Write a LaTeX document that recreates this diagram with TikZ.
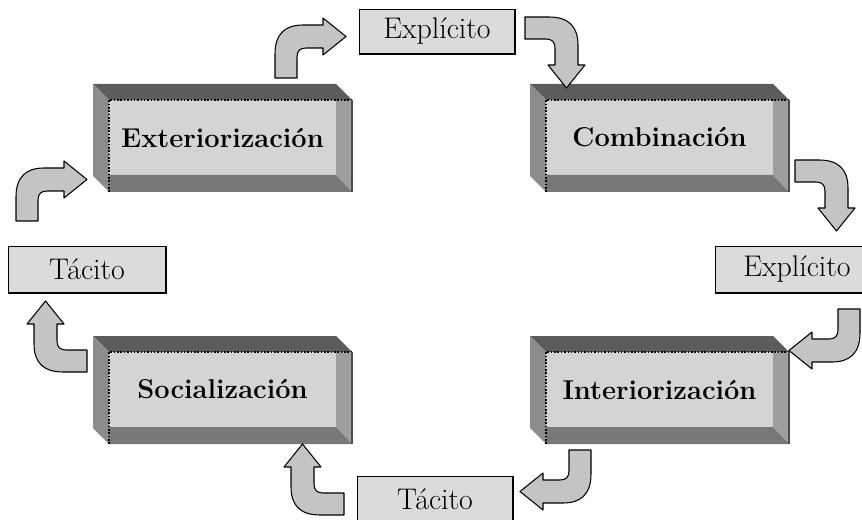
\documentclass[tikz,border=0pt]{standalone}
\usepackage{tikz}
\usetikzlibrary{calc}

\begin{document}
\begin{tikzpicture}[x=0.02cm, y=-0.02cm,
  tag/.style={draw, fill=black!14, inner sep=0pt, line width=0.5pt, font=\fontsize{17}{20}\selectfont},
  boxtxt/.style={font=\fontsize{15.5}{18}\selectfont\bfseries},
  bentarrow/.pic={
    \draw[fill=black!23, line width=0.6pt, line join=round] (0,0) -- (0,-24) .. controls (0,-44) and (10,-53) .. (28,-53) -- (48,-53) -- (48,-60) -- (71,-41.5) -- (48,-23) -- (48,-30) -- (31,-30) .. controls (25,-30) and (22,-27) .. (22,-21) -- (22,0) -- cycle;
  }]
\useasboundingbox (0,0) rectangle (862,520);

% bevelled boxes
\foreach \x/\y/\n/\txt in {93/84/ext/Exteriorización, 530/84/comb/Combinación, 93/336/soc/Socialización, 530/336/int/Interiorización} {
  \fill[black!64] (\x,\y) -- ({\x+243},\y) -- ({\x+259},{\y+16}) -- ({\x+16},{\y+16}) -- cycle;
  \fill[black!45] (\x,\y) -- ({\x+16},{\y+16}) -- ({\x+16},{\y+108}) -- (\x,{\y+92}) -- cycle;
  \fill[black!17] ({\x+16},{\y+16}) rectangle ({\x+243},{\y+91});
  \fill[black!38] ({\x+243},{\y+16}) -- ({\x+259},{\y+16}) -- ({\x+259},{\y+108}) -- ({\x+243},{\y+91}) -- cycle;
  \fill[black!53] ({\x+16},{\y+91}) -- ({\x+243},{\y+91}) -- ({\x+259},{\y+108}) -- ({\x+16},{\y+108}) -- cycle;
  \draw[densely dotted, line width=0.9pt] ({\x+16},{\y+108}) -- ({\x+16},{\y+16}) -- ({\x+259},{\y+16});
  \draw[black!70, line width=0.6pt] ({\x+259},{\y+16}) -- ({\x+259},{\y+108});
  \node[boxtxt] (\n) at ({\x+129.5},{\y+53.5}) {\txt};
}

% labels
\node[tag, minimum width=3.12cm, minimum height=0.9cm] (expTop) at (437,31.5) {Explícito};
\node[tag, minimum width=3.16cm, minimum height=0.94cm] (tacLeft) at (87,269.5) {Tácito};
\node[tag, minimum width=3.28cm, minimum height=0.94cm] (expRight) at (797,269.5) {Explícito};
\node[tag, minimum width=3.12cm, minimum height=0.94cm] (tacBot) at (435,499.5) {Tácito};
\foreach \n in {expTop, tacLeft, expRight, tacBot}
  \draw[line width=1.2pt] (\n.north east) -- (\n.south east) -- (\n.south west);

% bent arrows
\pic (a1) at (275,78) {bentarrow};
\pic (a2) [rotate=-90] at (525,17) {bentarrow};
\pic (a3) [rotate=-90] at (795,160) {bentarrow};
\pic (a4) [rotate=180] at (860,309) {bentarrow};
\pic (a5) [rotate=180] at (591,450) {bentarrow};
\pic (a6) [rotate=90] at (344,515) {bentarrow};
\pic (a7) [rotate=90] at (87,372) {bentarrow};
\pic (a8) at (16,221) {bentarrow};
\end{tikzpicture}
\end{document}
